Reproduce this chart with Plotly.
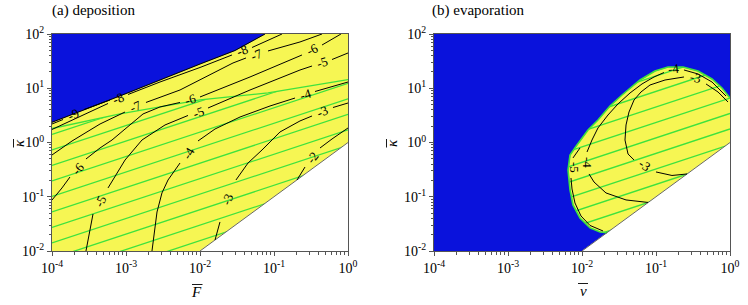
import plotly.graph_objects as go

# ---------------------------------------------------------------------------
# DATA  (all positions are log10 values)
# ---------------------------------------------------------------------------
X_TICK_VALS = [1e-4, 1e-3, 1e-2, 1e-1, 1e0]
X_TICK_TEXT = ["10<sup>-4</sup>", "10<sup>-3</sup>", "10<sup>-2</sup>", "10<sup>-1</sup>", "10<sup>0</sup>"]
Y_TICK_VALS = [1e-2, 1e-1, 1e0, 1e1, 1e2]
Y_TICK_TEXT = ["10<sup>-2</sup>", "10<sup>-1</sup>", "10<sup>0</sup>", "10<sup>1</sup>", "10<sup>2</sup>"]

# ---- panel (a) deposition : x = log10 F, y = log10 kappa -------------------
DEP_BLUE_EDGE_X = [-4.0, -2.946, -2.0, -1.527, -1.122]
DEP_BLUE_EDGE_Y = [0.373, 0.931, 1.447, 1.696, 2.0]

DEP_HATCH_TOP_X = [-4.0, -3.081, -2.0, -1.081, 0.0]
DEP_HATCH_TOP_Y = [0.258, 0.526, 0.784, 0.913, 1.161]

DEP_HATCH_LEFT_Y = [0.148, -0.138, -0.424, -0.709, -0.995, -1.281, -1.566, -1.852, -2.138, -2.423, -2.709]
DEP_HATCH_RIGHT_Y = [1.948, 1.662, 1.376, 1.091, 0.805, 0.519, 0.234, -0.052, -0.338, -0.623, -0.909]

DEP_M9_X = [-4.0, -3.851, None, -3.568, -3.216]
DEP_M9_Y = [0.341, 0.424, None, 0.608, 0.783]
DEP_M8_X = [-4.0, -3.419, -3.243, None, -2.973, -2.541, -2.0, -1.568, None, -1.297, -1.122, -0.892]
DEP_M8_Y = [0.240, 0.599, 0.719, None, 0.885, 1.115, 1.383, 1.613, None, 1.751, 1.853, 2.0]
DEP_M7_X = [-4.0, -3.730, -3.351, -3.013, None, -2.730, -2.270, -1.554, -1.378, None, -1.081, -0.649, -0.351]
DEP_M7_Y = [-0.230, 0.027, 0.341, 0.562, None, 0.738, 0.968, 1.466, 1.558, None, 1.687, 1.853, 2.0]
DEP_M6_X = [-4.0, -3.865, -3.757, None, -3.541, -3.351, -3.189, -2.770, -2.541, -2.270, None,
            -2.0, -1.324, -0.622, None, -0.351, -0.176, -0.095]
DEP_M6_Y = [-1.060, -0.838, -0.636, None, -0.304, -0.101, 0.046, 0.526, 0.655, 0.738, None,
            0.839, 1.208, 1.613, None, 1.797, 1.926, 2.0]
DEP_M5_X = [-3.541, -3.5, -3.446, None, -3.243, -3.013, -2.784, -2.473, -2.162, None,
            -1.892, -1.324, -0.649, -0.486, None, -0.216, 0.0]
DEP_M5_Y = [-2.0, -1.705, -1.318, None, -0.838, -0.323, 0.046, 0.323, 0.498, None,
            0.636, 0.968, 1.336, 1.410, None, 1.530, 1.650]
DEP_M4_X = [-2.649, -2.622, -2.581, -2.514, -2.432, -2.270, None, -2.027, -1.797, -1.459, -1.054, -0.716, None, -0.446, 0.0]
DEP_M4_Y = [-2.0, -1.705, -1.281, -0.930, -0.691, -0.378, None, 0.028, 0.249, 0.470, 0.673, 0.820, None, 0.940, 1.115]
DEP_M3_X = [-1.797, -1.730, None, -1.514, -1.351, -1.162, -0.919, -0.649, -0.486, None, -0.203, 0.0]
DEP_M3_Y = [-1.797, -1.465, None, -0.691, -0.378, -0.138, 0.194, 0.397, 0.489, None, 0.645, 0.728]
DEP_M2_X = [-0.689, -0.581, None, -0.378, -0.216, 0.0]
DEP_M2_Y = [-0.691, -0.452, None, -0.101, 0.065, 0.268]

DEP_LABEL_TEXT = ["-9", "-8", "-8", "-7", "-7", "-6", "-6", "-6", "-5", "-5", "-5", "-4", "-4", "-3", "-3", "-2"]
DEP_LABEL_X = [-3.709, -3.108, -1.432, -2.878, -1.230, -3.649, -2.135, -0.486, -3.338, -2.027, -0.351,
               -2.149, -0.581, -1.622, -0.345, -0.480]
DEP_LABEL_Y = [0.516, 0.802, 1.687, 0.664, 1.613, -0.470, 0.784, 1.705, -1.078, 0.562, 1.466,
               -0.193, 0.885, -1.041, 0.572, -0.276]
DEP_LABEL_ANGLE = [-22, -22, -22, -24, -22, -48, -17, -25, -65, -20, -18, -60, -17, -69, -22, -52]

# ---- panel (b) evaporation : x = log10 nu, y = log10 kappa -----------------
EVA_EDGE_X = [-1.662, -1.757, -1.892, -2.027, -2.122, -2.162, -2.189, -2.162, -2.068, -1.919, -1.784,
              -1.622, -1.459, -1.216, -1.014, -0.838, -0.635, -0.432, -0.243, -0.108, 0.0]
EVA_EDGE_Y = [-1.662, -1.649, -1.575, -1.391, -1.152, -0.875, -0.507, -0.230, -0.046, 0.231, 0.415,
              0.673, 0.876, 1.152, 1.318, 1.392, 1.392, 1.318, 1.171, 1.005, 0.820]

EVA_HATCH_LEFT_Y = [-0.123, -0.408, -0.694, -0.980, -1.265, -1.551, -1.837, -2.122, -2.408, -2.693]
EVA_HATCH_RIGHT_Y = [1.677, 1.392, 1.106, 0.820, 0.535, 0.249, -0.037, -0.322, -0.608, -0.893]

EVA_M5_X = [-1.716, -1.892, -2.014, -2.095, -2.135, -2.149, None, -2.122, -2.027]
EVA_M5_Y = [-1.631, -1.529, -1.354, -1.115, -0.857, -0.654, None, -0.285, -0.101]
EVA_M4_X = [-1.108, -1.405, -1.676, -1.838, -1.905, None, -1.932, -1.865, -1.784, -1.649, -1.514,
            -1.351, -1.189, -1.027, -0.892, None, -0.622, -0.432, -0.243, -0.054]
EVA_M4_Y = [-1.105, -1.059, -0.930, -0.728, -0.580, None, -0.175, 0.046, 0.268, 0.507, 0.710,
            0.913, 1.079, 1.208, 1.290, None, 1.337, 1.263, 1.115, 0.857]
EVA_M3_X = [-0.581, -0.784, -1.0, None, -1.297, -1.378, -1.419, -1.405, -1.365, -1.297, -1.203,
            -1.081, -0.878, -0.622, None, -0.324, -0.162, -0.027]
EVA_M3_Y = [-0.580, -0.608, -0.543, None, -0.322, -0.212, 0.046, 0.323, 0.562, 0.783, 0.931,
            1.060, 1.152, 1.208, None, 1.079, 0.931, 0.747]

EVA_LABEL_TEXT = ["-5", "-4", "-4", "-3", "-3"]
EVA_LABEL_X = [-2.095, -1.919, -0.757, -0.473, -1.149]
EVA_LABEL_Y = [-0.470, -0.378, 1.364, 1.189, -0.433]
EVA_LABEL_ANGLE = [90, 90, -5, 12, 35]

# ---------------------------------------------------------------------------
# STYLE
# ---------------------------------------------------------------------------
W, H = 748, 305
FONT = "Liberation Serif"
BLUE = "#0a12dc"
YELLOW = "#f6f653"
GREEN = "#3ee23e"
FRAME = "#555555"
LEFT_DOM = [52 / W, 348 / W]
RIGHT_DOM = [434 / W, 730 / W]
Y_DOM = [1 - 251 / H, 1 - 34 / H]


def tv(seq):
    return [None if v is None else 10.0 ** v for v in seq]


fig = go.Figure()


def poly(xs, ys, color, xa, ya):
    fig.add_trace(go.Scatter(x=tv(xs), y=tv(ys), mode="lines", fill="toself",
                             fillcolor=color, line=dict(color=color, width=0.5),
                             xaxis=xa, yaxis=ya, hoverinfo="skip", showlegend=False))


def line(xs, ys, color, width, xa, ya, dash="solid"):
    fig.add_trace(go.Scatter(x=tv(xs), y=tv(ys), mode="lines",
                             line=dict(color=color, width=width, dash=dash),
                             connectgaps=False, xaxis=xa, yaxis=ya,
                             hoverinfo="skip", showlegend=False))


# ---------------- panel (a) -------------------------------------------------
for yl, yr in zip(DEP_HATCH_LEFT_Y, DEP_HATCH_RIGHT_Y):
    line([-4.0, 0.0], [yl, yr], GREEN, 1.3, "x", "y")
poly(DEP_HATCH_TOP_X + [0.0, -4.0], DEP_HATCH_TOP_Y + [2.0, 2.0], YELLOW, "x", "y")
poly(DEP_BLUE_EDGE_X + [-4.0], DEP_BLUE_EDGE_Y + [2.0], BLUE, "x", "y")
poly([-2.0, 0.0, 0.0], [-2.0, 0.0, -2.0], "white", "x", "y")
line(DEP_HATCH_TOP_X, DEP_HATCH_TOP_Y, GREEN, 1.3, "x", "y")
line([-2.0, 0.0], [-2.0, 0.0], "#444444", 0.8, "x", "y")
line(DEP_BLUE_EDGE_X, DEP_BLUE_EDGE_Y, "black", 1.0, "x", "y")
for xs, ys in [(DEP_M9_X, DEP_M9_Y), (DEP_M8_X, DEP_M8_Y), (DEP_M7_X, DEP_M7_Y), (DEP_M6_X, DEP_M6_Y),
               (DEP_M5_X, DEP_M5_Y), (DEP_M4_X, DEP_M4_Y), (DEP_M3_X, DEP_M3_Y), (DEP_M2_X, DEP_M2_Y)]:
    line(xs, ys, "black", 1.0, "x", "y")

# ---------------- panel (b) -------------------------------------------------
for yl, yr in zip(EVA_HATCH_LEFT_Y, EVA_HATCH_RIGHT_Y):
    line([-4.0, 0.0], [yl, yr], GREEN, 1.3, "x2", "y2")
blue_b_x = [-4.0, 0.0] + EVA_EDGE_X[::-1] + [-2.0, -4.0]
blue_b_y = [2.0, 2.0] + EVA_EDGE_Y[::-1] + [-2.0, -2.0]
poly(blue_b_x, blue_b_y, BLUE, "x2", "y2")
poly([-2.0, 0.0, 0.0], [-2.0, 0.0, -2.0], "white", "x2", "y2")
line(EVA_EDGE_X, EVA_EDGE_Y, GREEN, 1.6, "x2", "y2")
line([-2.0, 0.0], [-2.0, 0.0], "#444444", 0.8, "x2", "y2")
for xs, ys in [(EVA_M5_X, EVA_M5_Y), (EVA_M4_X, EVA_M4_Y), (EVA_M3_X, EVA_M3_Y)]:
    line(xs, ys, "black", 1.0, "x2", "y2")

# ---------------- labels ----------------------------------------------------
ann = []
for t, x, y, a in zip(DEP_LABEL_TEXT, DEP_LABEL_X, DEP_LABEL_Y, DEP_LABEL_ANGLE):
    ann.append(dict(text=t, x=x, y=y, xref="x", yref="y", textangle=a, showarrow=False,
                    font=dict(family=FONT, size=13, color="black")))
for t, x, y, a in zip(EVA_LABEL_TEXT, EVA_LABEL_X, EVA_LABEL_Y, EVA_LABEL_ANGLE):
    ann.append(dict(text=t, x=x, y=y, xref="x2", yref="y2", textangle=a, showarrow=False,
                    font=dict(family=FONT, size=13, color="black")))

txt = dict(family=FONT, size=15, color="black")


def pa(text, px, py, angle=0, anchor="center"):
    return dict(text=text, x=px / W, y=1 - py / H, xref="paper", yref="paper",
                xanchor=anchor, yanchor="middle", textangle=angle, showarrow=False, font=txt)


ann += [
    pa("(a) deposition", 50, 10, anchor="left"),
    pa("(b) evaporation", 430, 10, anchor="left"),
    pa("<i>F</i>", 196, 292),
    pa("<i>\u03bd</i>", 583, 291),
    pa("<i>\u03ba</i>", 19, 143, angle=-90),
    pa("<i>\u03ba</i>", 392, 143, angle=-90),
]


def bar(x0, y0, x1, y1):
    return dict(type="line", xref="paper", yref="paper", x0=x0 / W, x1=x1 / W,
                y0=1 - y0 / H, y1=1 - y1 / H, line=dict(color="black", width=0.9))


shapes = [
    bar(192, 284.5, 202.5, 284.5),   # bar over F
    bar(578, 283.5, 588, 283.5),     # bar over nu
    bar(13.5, 139, 13.5, 147.5),     # bar over kappa (rotated)
    bar(386.5, 139, 386.5, 147.5),
]

MINOR = [k * 10.0 ** e for e in range(-4, 2) for k in range(2, 10)]


def axis(dom, anchor, tickvals, ticktext, rng):
    return dict(type="log", domain=dom, anchor=anchor, range=rng, showgrid=False, zeroline=False,
                showline=True, linecolor=FRAME, linewidth=1, mirror=True, automargin=False,
                ticks="outside", ticklen=4, tickwidth=1, tickcolor=FRAME,
                tickmode="array", tickvals=tickvals, ticktext=ticktext,
                tickfont=dict(family=FONT, size=14, color="black"),
                minor=dict(tickmode="array", tickvals=MINOR, ticks="outside", ticklen=2.5,
                           tickwidth=0.8, tickcolor=FRAME, showgrid=False),
                fixedrange=True)


fig.update_layout(
    width=W, height=H, margin=dict(l=0, r=0, t=0, b=0, autoexpand=False),
    paper_bgcolor="white", plot_bgcolor=YELLOW, showlegend=False,
    xaxis=axis(LEFT_DOM, "y", X_TICK_VALS, X_TICK_TEXT, [-4, 0]),
    yaxis=axis(Y_DOM, "x", Y_TICK_VALS, Y_TICK_TEXT, [-2, 2]),
    xaxis2=axis(RIGHT_DOM, "y2", X_TICK_VALS, X_TICK_TEXT, [-4, 0]),
    yaxis2=axis(Y_DOM, "x2", Y_TICK_VALS, Y_TICK_TEXT, [-2, 2]),
    annotations=ann,
    shapes=shapes,
)

fig.write_html("out.html", config={"displayModeBar": False},
               post_script="document.body.style.margin='0px';document.body.style.overflow='hidden';")
